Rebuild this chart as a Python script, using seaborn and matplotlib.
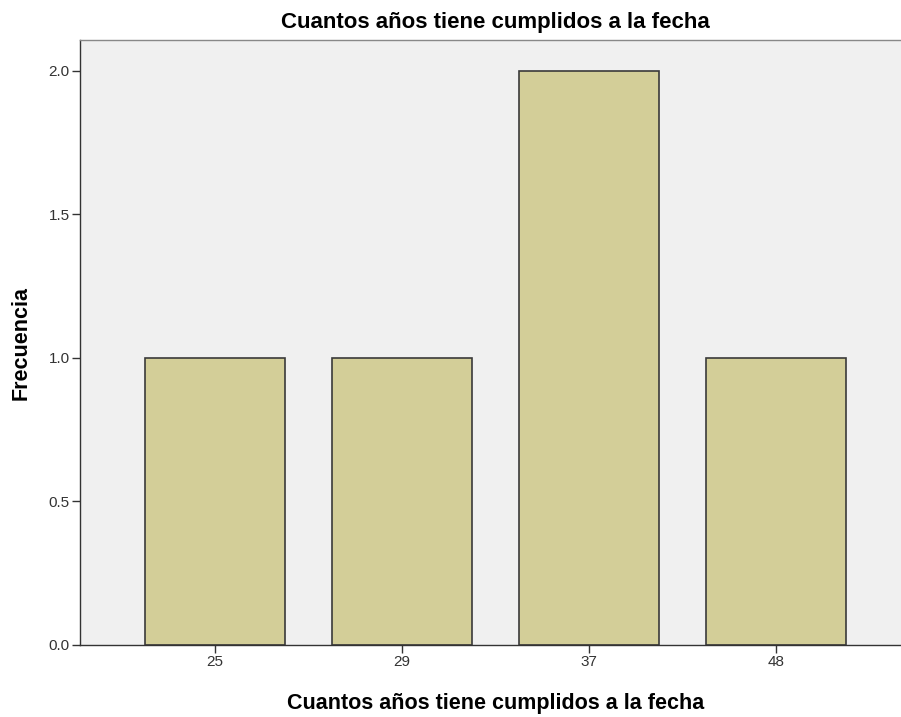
import matplotlib
matplotlib.use("Agg")
import matplotlib.pyplot as plt
import seaborn as sns
import pandas as pd

categories = ["25", "29", "37", "48"]
frequencies = [1, 1, 2, 1]
y_ticks = [0.0, 0.5, 1.0, 1.5, 2.0]
y_tick_labels = ["0.0", "0.5", "1.0", "1.5", "2.0"]
title = "Cuantos años tiene cumplidos a la fecha"
x_label = "Cuantos años tiene cumplidos a la fecha"
y_label = "Frecuencia"

sns.set_style("white")
plt.rcParams["font.family"] = ["Liberation Sans", "DejaVu Sans"]

df = pd.DataFrame({"edad": categories, "freq": frequencies})

fig = plt.figure(figsize=(9.01, 7.17), dpi=100)
ax = fig.add_axes([80/901, 72/717, 831/901, 605/717])
ax.set_facecolor("#F0F0F0")

sns.barplot(data=df, x="edad", y="freq", order=categories, color="#D3CE98",
            saturation=1, width=0.75, edgecolor="#3a3a3a", linewidth=1.2, ax=ax)

ax.set_xlim(-0.722, 3.722)
ax.set_ylim(0, 2.108)
ax.set_yticks(y_ticks)
ax.set_yticklabels(y_tick_labels)

ax.spines["right"].set_visible(False)
for s in ["left", "bottom", "top"]:
    ax.spines[s].set_color("#333333")
    ax.spines[s].set_linewidth(1.0)
ax.spines["top"].set_color("#888888")

ax.tick_params(axis="both", which="both", length=6, width=1, color="#333333",
               labelsize=11, labelcolor="#333333", direction="out", pad=1.5)
ax.tick_params(axis="x", bottom=True)
ax.tick_params(axis="y", left=True)

ax.set_title(title, fontsize=16, fontweight="bold", pad=8.5, color="black")
ax.set_xlabel(x_label, fontsize=15.5, fontweight="bold", labelpad=17, color="black")
ax.set_ylabel(y_label, fontsize=15.5, fontweight="bold", labelpad=12, color="black")

fig.savefig("out.png", dpi=100)
